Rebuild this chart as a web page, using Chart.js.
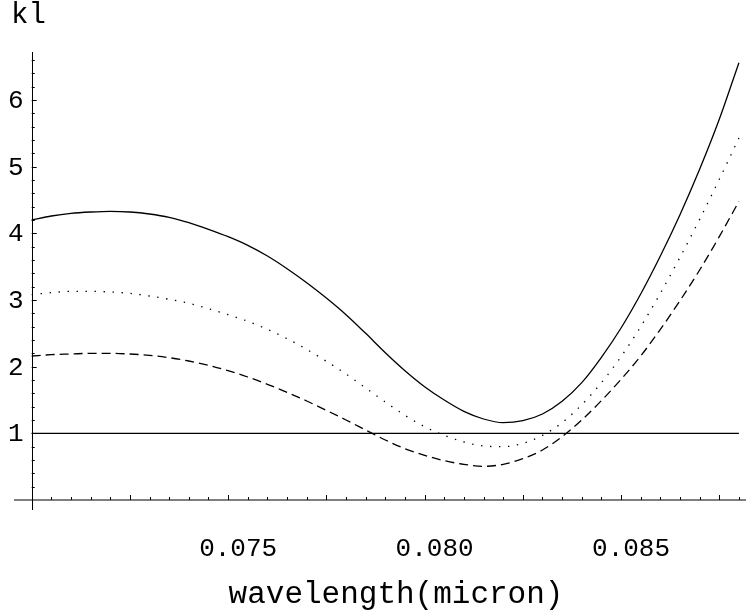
<!DOCTYPE html>
<html>
<head>
<meta charset="utf-8">
<script src="https://cdn.jsdelivr.net/npm/chart.js@4.4.0/dist/chart.umd.min.js"></script>
<style>
  html, body { margin: 0; padding: 0; background: #fff; }
  #wrap { width: 746px; height: 613px; }
</style>
</head>
<body>
<div id="wrap"><canvas id="klChart"></canvas></div>
<script>
// wavelength grid (micron)
const wavelength = [
  0.0700, 0.0705, 0.0710, 0.0715, 0.0720, 0.0725, 0.0730, 0.0735, 0.0740, 0.0745,
  0.0750, 0.0755, 0.0760, 0.0765, 0.0770, 0.0775, 0.0780, 0.0785, 0.0790, 0.0795,
  0.0800, 0.0805, 0.0810, 0.0815, 0.0820, 0.0825, 0.0830, 0.0835, 0.0840, 0.0845,
  0.0850, 0.0855, 0.0860, 0.0865, 0.0870, 0.0875, 0.0880
];

// kl curves
const klSolid = [
  4.20, 4.26, 4.30, 4.32, 4.33, 4.32, 4.29, 4.24, 4.16, 4.06,
  3.95, 3.82, 3.66, 3.47, 3.26, 3.03, 2.78, 2.50, 2.21, 1.94,
  1.70, 1.50, 1.33, 1.215, 1.16, 1.19, 1.29, 1.48, 1.76, 2.14,
  2.58, 3.09, 3.66, 4.28, 4.96, 5.71, 6.56
];
const klDotted = [
  3.08, 3.11, 3.13, 3.13, 3.12, 3.10, 3.06, 3.01, 2.95, 2.87,
  2.78, 2.68, 2.56, 2.42, 2.26, 2.08, 1.89, 1.68, 1.47, 1.27,
  1.10, 0.97, 0.87, 0.81, 0.80, 0.85, 0.97, 1.16, 1.43, 1.76,
  2.15, 2.60, 3.10, 3.64, 4.21, 4.81, 5.43
];
const klDashed = [
  2.16, 2.18, 2.19, 2.20, 2.20, 2.19, 2.17, 2.135, 2.085, 2.02,
  1.94, 1.845, 1.735, 1.615, 1.485, 1.345, 1.20, 1.05, 0.90, 0.77,
  0.67, 0.59, 0.535, 0.505, 0.535, 0.62, 0.75, 0.95, 1.20, 1.49,
  1.81, 2.16, 2.56, 2.99, 3.45, 3.95, 4.48
];
const klLevel = 1;

const xTicks = [0.075, 0.080, 0.085];
const xTickLabels = ['0.075', '0.080', '0.085'];
const yTicks = [1, 2, 3, 4, 5, 6];
const yTickLabels = ['1', '2', '3', '4', '5', '6'];

const xOrigin = 0.070;
const yOrigin = 0;
const FONT = '"Liberation Mono", "DejaVu Sans Mono", monospace';

const toPoints = (ys) => ys.map((y, i) => ({ x: wavelength[i], y: y }));

// axes crossing at (0.070, 0), ticks pointing inward, labels in Courier style
const mathAxes = {
  id: 'mathAxes',
  beforeDatasetsDraw(chart) {
    const ctx = chart.ctx;
    const xs = chart.scales.x;
    const ys = chart.scales.y;
    const area = chart.chartArea;
    const x0 = xs.getPixelForValue(xOrigin);
    const y0 = ys.getPixelForValue(yOrigin);

    ctx.save();
    ctx.strokeStyle = '#000';
    ctx.lineWidth = 1;

    // axis lines
    ctx.beginPath();
    ctx.moveTo(area.left, y0);
    ctx.lineTo(area.right, y0);
    ctx.moveTo(Math.round(x0) + 0.5, area.top);
    ctx.lineTo(Math.round(x0) + 0.5, area.bottom);
    ctx.stroke();

    // x ticks: every 0.0005, longer every 0.0025
    ctx.beginPath();
    for (let i = 1; i <= 36; i++) {
      const v = xOrigin + i * 0.0005;
      const px = Math.round(xs.getPixelForValue(v)) + 0.5;
      const len = (i % 5 === 0) ? 5 : 3;
      ctx.moveTo(px, y0);
      ctx.lineTo(px, y0 - len);
    }
    // y ticks: every 0.2, longer every 1
    for (let i = 1; i <= 33; i++) {
      const v = i * 0.2;
      const py = Math.round(ys.getPixelForValue(v)) + 0.5;
      const len = (i % 5 === 0) ? 5 : 3;
      ctx.moveTo(x0, py);
      ctx.lineTo(x0 + len, py);
    }
    ctx.stroke();

    // tick labels
    ctx.fillStyle = '#000';
    ctx.font = '26px ' + FONT;
    ctx.textAlign = 'center';
    ctx.textBaseline = 'alphabetic';
    xTicks.forEach((v, i) => {
      ctx.fillText(xTickLabels[i], xs.getPixelForValue(v) + 10, y0 + 56);
    });
    ctx.textAlign = 'right';
    ctx.textBaseline = 'middle';
    yTicks.forEach((v, i) => {
      ctx.fillText(yTickLabels[i], x0 - 8, ys.getPixelForValue(v) + 1);
    });

    // axis titles
    ctx.textBaseline = 'alphabetic';
    ctx.textAlign = 'left';
    ctx.font = '29px ' + FONT;
    ctx.fillText('kl', 11, 23);
    ctx.textAlign = 'center';
    ctx.font = '31px ' + FONT;
    ctx.fillText('wavelength(micron)', 396, 603);
    ctx.restore();
  }
};

const lineStyle = {
  borderColor: '#000',
  borderWidth: 1.3,
  pointRadius: 0,
  fill: false,
  cubicInterpolationMode: 'monotone'
};

new Chart(document.getElementById('klChart'), {
  type: 'line',
  data: {
    datasets: [
      Object.assign({ label: 'kl', data: toPoints(klSolid) }, lineStyle),
      Object.assign({ label: 'kl dotted', data: toPoints(klDotted), borderDash: [1.4, 7.6] }, lineStyle),
      Object.assign({ label: 'kl dashed', data: toPoints(klDashed), borderDash: [9, 5] }, lineStyle),
      Object.assign({
        label: 'kl = 1',
        data: [{ x: wavelength[0], y: klLevel }, { x: wavelength[wavelength.length - 1], y: klLevel }]
      }, lineStyle, { cubicInterpolationMode: 'default' })
    ]
  },
  options: {
    responsive: true,
    maintainAspectRatio: false,
    animation: false,
    layout: { padding: { left: 14, right: 0, top: 52, bottom: 103 } },
    plugins: { legend: { display: false }, tooltip: { enabled: false } },
    scales: {
      x: { type: 'linear', min: 0.06955, max: 0.08818, display: false },
      y: { type: 'linear', min: -0.15, max: 6.72, display: false }
    }
  },
  plugins: [mathAxes]
});
</script>
</body>
</html>
